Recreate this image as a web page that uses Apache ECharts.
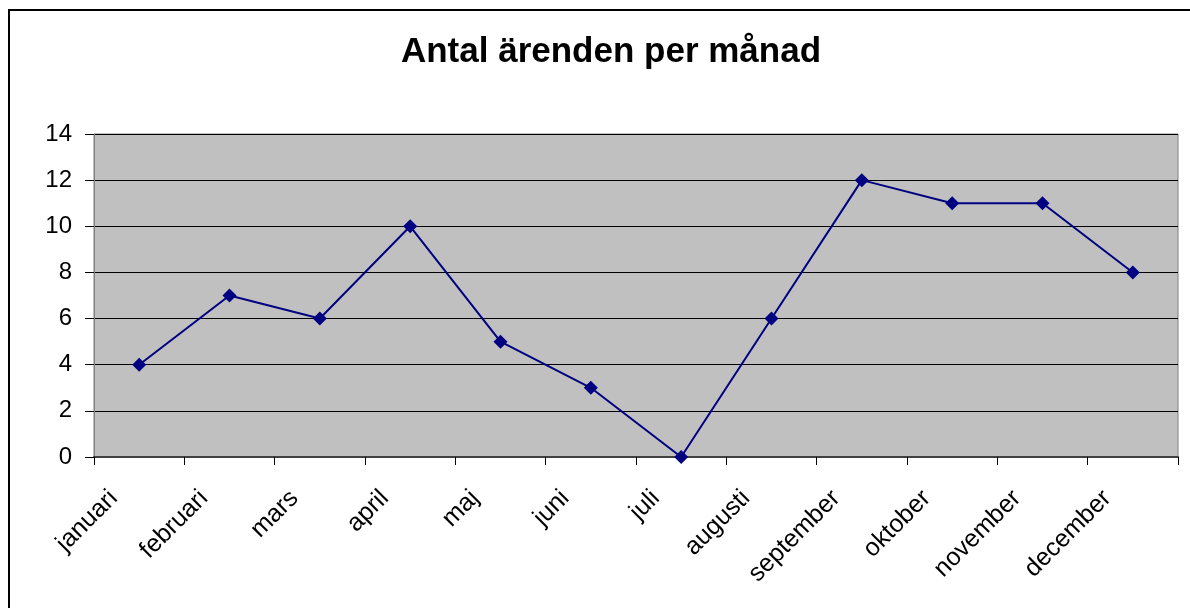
<!DOCTYPE html>
<html>
<head>
<meta charset="utf-8">
<script src="https://cdn.jsdelivr.net/npm/echarts@6/dist/echarts.min.js"></script>
<style>
html,body{margin:0;padding:0;background:#fff;}
#c{width:1190px;height:608px;}
</style>
</head>
<body>
<div id="c"></div>
<script>
const titleText = 'Antal ärenden per månad';
const categories = ['januari','februari','mars','april','maj','juni','juli','augusti','september','oktober','november','december'];
const values = [4, 7, 6, 10, 5, 3, 0, 6, 12, 11, 11, 8];
const yMin = 0, yMax = 14, yStep = 2;

const chart = echarts.init(document.getElementById('c'), null, {renderer:'canvas'});
chart.setOption({
  animation: false,
  backgroundColor: '#ffffff',
  title: {
    text: titleText,
    left: 606,
    textAlign: 'center',
    top: 30,
    textStyle: {fontFamily: 'Liberation Sans, Arial, sans-serif', fontSize: 35, fontWeight: 'bold', color: '#000'}
  },
  graphic: [{
    type: 'rect',
    shape: {x: 9, y: 10, width: 1300, height: 700},
    style: {fill: 'none', stroke: '#000', lineWidth: 2},
    silent: true
  }],
  grid: {
    left: 94, top: 134, right: 12, bottom: 151,
    show: true, backgroundColor: '#c0c0c0', borderColor: '#808080', borderWidth: 1
  },
  xAxis: {
    type: 'category',
    data: categories,
    boundaryGap: true,
    axisLine: {show: true, lineStyle: {color: '#404040', width: 2}},
    axisTick: {show: true, length: 8, alignWithLabel: false, lineStyle: {color: '#000', width: 1}},
    axisLabel: {rotate: 45, fontFamily: 'Liberation Sans, Arial, sans-serif', fontSize: 25, color: '#000', margin: 12, interval: 0, padding: [0, 36, 0, 0]}
  },
  yAxis: {
    type: 'value',
    min: yMin, max: yMax, interval: yStep,
    axisLine: {show: true, lineStyle: {color: '#808080', width: 1}},
    axisTick: {show: true, length: 9, lineStyle: {color: '#000', width: 1}},
    axisLabel: {fontFamily: 'Liberation Sans, Arial, sans-serif', fontSize: 24, color: '#000', margin: 22},
    splitLine: {show: true, lineStyle: {color: '#000', width: 1}}
  },
  series: [{
    type: 'line',
    data: values,
    symbol: 'diamond',
    symbolSize: 14,
    lineStyle: {color: '#000080', width: 2},
    itemStyle: {color: '#000080'}
  }]
});
</script>
</body>
</html>
